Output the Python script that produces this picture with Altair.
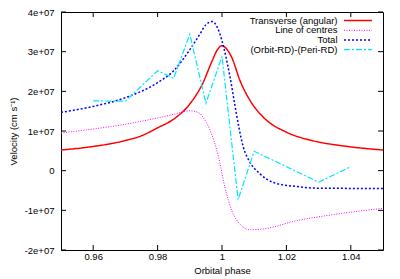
import altair as alt
import pandas as pd

# ---- data (velocities in cm/s) ----
trans_x = [0.95, 0.96, 0.97, 0.975, 0.98, 0.985, 0.99, 0.994, 0.997, 0.9985, 1.0,
           1.0015, 1.003, 1.0056, 1.0087, 1.0128, 1.02, 1.028, 1.039, 1.05]
trans_y = [0.52e7, 0.61e7, 0.76e7, 0.88e7, 1.08e7, 1.3e7, 1.68e7, 2.2e7, 2.78e7, 3.04e7, 3.15e7,
           3.06e7, 2.86e7, 2.27e7, 1.77e7, 1.35e7, 0.97e7, 0.76e7, 0.61e7, 0.52e7]

loc_x = [0.95, 0.96, 0.97, 0.98, 0.985, 0.99, 0.993, 0.9945, 0.9963, 0.9989, 1.0009,
         1.003, 1.0056, 1.0087, 1.0128, 1.0232, 1.0335, 1.05]
loc_y = [0.95e7, 1.05e7, 1.17e7, 1.33e7, 1.42e7, 1.51e7, 1.45e7, 1.3e7, 1.02e7, 0.35e7, -0.42e7,
         -1.0e7, -1.35e7, -1.49e7, -1.47e7, -1.26e7, -1.12e7, -0.95e7]

tot_x = [0.95, 0.96, 0.97, 0.98, 0.985, 0.99, 0.9932, 0.995, 0.997, 0.9985, 0.9999,
         1.0025, 1.0045, 1.0066, 1.0087, 1.0118, 1.016, 1.0232, 1.029, 1.05]
tot_y = [1.47e7, 1.62e7, 1.84e7, 2.22e7, 2.52e7, 3.05e7, 3.45e7, 3.68e7, 3.76e7, 3.62e7, 3.3e7,
         2.36e7, 1.42e7, 0.6e7, 0.21e7, -0.08e7, -0.3e7, -0.4e7, -0.44e7, -0.45e7]

diff_x = [0.96, 0.97, 0.98, 0.985, 0.99, 0.995, 1.0, 1.005, 1.01, 1.03, 1.04]
diff_y = [1.76e7, 1.75e7, 2.52e7, 2.33e7, 3.44e7, 1.7e7, 2.88e7, -0.73e7, 0.49e7, -0.29e7, 0.1e7]

series_names = ["Transverse (angular)", "Line of centres", "Total", "(Orbit-RD)-(Peri-RD)"]
x_ticks = [0.96, 0.98, 1.0, 1.02, 1.04]
y_ticks = [-2e7, -1e7, 0, 1e7, 2e7, 3e7, 4e7]

# ---- styles ----
W, H = 322, 238
FONT = "Liberation Sans"
styles = [
    dict(color="#ff0000", strokeWidth=1.5, strokeDash=[1, 0], interpolate="monotone"),
    dict(color="#ff00ff", strokeWidth=1.0, strokeDash=[1, 1.5], interpolate="monotone"),
    dict(color="#0000ff", strokeWidth=1.5, strokeDash=[2, 2], interpolate="monotone"),
    dict(color="#00e5ff", strokeWidth=1.2, strokeDash=[6, 2, 2, 2], interpolate="linear"),
]

xs = alt.Scale(domain=[0.95, 1.05], nice=False, zero=False)
ys = alt.Scale(domain=[-2e7, 4e7], nice=False, zero=False)

x_axis = alt.Axis(values=x_ticks, title="Orbital phase", grid=False, ticks=False, tickSize=0,
                  domain=False, labelPadding=1, titlePadding=5,
                  labelFont=FONT, titleFont=FONT, labelFontSize=9.5, titleFontSize=9.5,
                  titleFontWeight="normal", labelColor="black", titleColor="black",
                  labelExpr="format(datum.value, '~g')")
y_axis = alt.Axis(values=y_ticks, title="Velocity (cm s⁻¹)", grid=False, ticks=False, tickSize=0,
                  domain=False, labelPadding=7, titlePadding=6,
                  labelFont=FONT, titleFont=FONT, labelFontSize=9.5, titleFontSize=9.5,
                  titleFontWeight="normal", labelColor="black", titleColor="black",
                  labelExpr="datum.value == 0 ? '0' : (datum.value < 0 ? '-' : '') + abs(round(datum.value / 1e7)) + 'e+07'")

layers = []
all_x = [trans_x, loc_x, tot_x, diff_x]
all_y = [trans_y, loc_y, tot_y, diff_y]
for i, (sx, sy) in enumerate(zip(all_x, all_y)):
    df = pd.DataFrame({"x": sx, "y": sy})
    st = styles[i]
    layers.append(
        alt.Chart(df).mark_line(color=st["color"], strokeWidth=st["strokeWidth"],
                                strokeDash=st["strokeDash"], interpolate=st["interpolate"],
                                clip=True)
        .encode(x=alt.X("x:Q", scale=xs, axis=x_axis),
                y=alt.Y("y:Q", scale=ys, axis=y_axis))
    )

# inward tick marks on all four sides
xt = pd.DataFrame({"x": x_ticks})
yt = pd.DataFrame({"y": y_ticks})
TL = 5
layers.append(alt.Chart(xt).mark_rule(color="black", strokeWidth=1).encode(
    x=alt.X("x:Q", scale=xs, axis=x_axis), y=alt.value(H), y2=alt.value(H - TL)))
layers.append(alt.Chart(xt).mark_rule(color="black", strokeWidth=1).encode(
    x=alt.X("x:Q", scale=xs, axis=x_axis), y=alt.value(0), y2=alt.value(TL)))
layers.append(alt.Chart(yt).mark_rule(color="black", strokeWidth=1).encode(
    y=alt.Y("y:Q", scale=ys, axis=y_axis), x=alt.value(0), x2=alt.value(TL)))
layers.append(alt.Chart(yt).mark_rule(color="black", strokeWidth=1).encode(
    y=alt.Y("y:Q", scale=ys, axis=y_axis), x=alt.value(W), x2=alt.value(W - TL)))

# legend (gnuplot style: text then sample line)
row_y = [8.5, 18.3, 28, 37.6]
for i, name in enumerate(series_names):
    st = styles[i]
    ldf = pd.DataFrame({"label": [name]})
    layers.append(alt.Chart(ldf).mark_text(align="right", baseline="middle", font=FONT,
                                           fontSize=9.5, color="black")
                  .encode(text="label:N", x=alt.value(276.5), y=alt.value(row_y[i])))
    layers.append(alt.Chart(ldf).mark_rule(color=st["color"], strokeWidth=st["strokeWidth"],
                                           strokeDash=st["strokeDash"])
                  .encode(x=alt.value(283), x2=alt.value(311), y=alt.value(row_y[i])))

chart = alt.layer(*layers).properties(
    width=W, height=H,
    background="white",
    autosize=alt.AutoSizeParams(type="none"),
    padding={"left": 53, "top": 4, "right": 9, "bottom": 29},
).configure_view(stroke="black", strokeWidth=1)

chart.save("out.html", embed_options={"renderer": "svg", "actions": False})
